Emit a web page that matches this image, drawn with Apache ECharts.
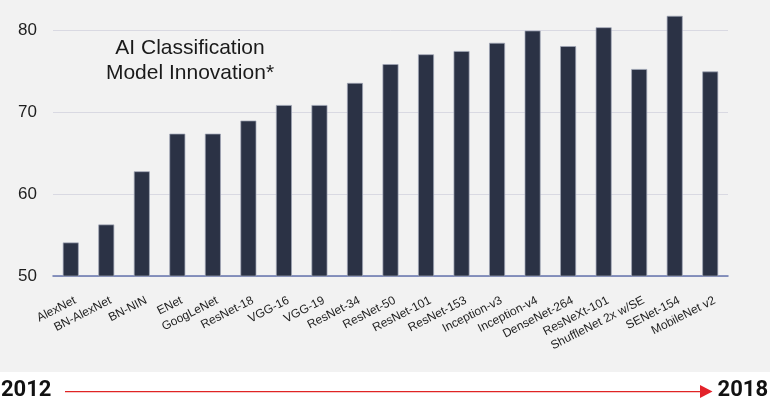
<!DOCTYPE html>
<html>
<head>
<meta charset="utf-8">
<script src="https://cdn.jsdelivr.net/npm/echarts@6/dist/echarts.min.js"></script>
<style>
  html, body { margin: 0; padding: 0; background: #fff; }
  #chart { width: 770px; height: 399px; background: linear-gradient(#f2f2f2 0, #f2f2f2 372px, #fff 372px); }
</style>
</head>
<body>
<div id="chart"></div>
<script>
// model names, left to right (2012 -> 2018)
var models = ['AlexNet', 'BN-AlexNet', 'BN-NIN', 'ENet', 'GoogLeNet', 'ResNet-18', 'VGG-16', 'VGG-19',
  'ResNet-34', 'ResNet-50', 'ResNet-101', 'ResNet-153', 'Inception-v3', 'Inception-v4', 'DenseNet-264',
  'ResNeXt-101', 'ShuffleNet 2x w/SE', 'SENet-154', 'MobileNet v2'];
// top-1 accuracy (%)
var accuracy = [54.1, 56.3, 62.8, 67.4, 67.4, 69.0, 70.9, 70.9, 73.6, 75.9, 77.1, 77.5, 78.5, 80.0, 78.1,
  80.4, 75.3, 81.8, 75.0];
var yTicks = [50, 60, 70, 80];
var years = ['2012', '2018'];

var chart = echarts.init(document.getElementById('chart'));

var option = {
  backgroundColor: 'transparent',
  animation: false,
  grid: { left: 53, right: 42, top: 6, bottom: 123 },
  xAxis: {
    type: 'category',
    data: models,
    axisLine: { lineStyle: { color: '#6574ad', width: 1.5 } },
    axisTick: { show: false },
    axisLabel: {
      rotate: 27,
      interval: 0,
      margin: 26,
      padding: [0, -5, 0, 0],
      color: '#1e1e1e',
      fontSize: 12,
      fontFamily: 'Liberation Sans, Arial, sans-serif'
    }
  },
  yAxis: {
    type: 'value',
    min: yTicks[0],
    max: 83,
    interval: 10,
    axisLine: { show: false },
    axisTick: { show: false },
    axisLabel: {
      margin: 16,
      showMaxLabel: false,
      color: '#1e1e1e',
      fontSize: 17,
      fontFamily: 'Liberation Sans, Arial, sans-serif'
    },
    splitLine: { showMaxLine: false, lineStyle: { color: '#d9d9e2', width: 1 } }
  },
  series: [{
    type: 'bar',
    data: accuracy,
    barWidth: 16,
    itemStyle: {
      color: '#2b3245',
      borderColor: 'rgba(160,166,182,0.9)',
      borderWidth: 0.8
    }
  }],
  graphic: [
    {
      type: 'text',
      x: 190, y: 36,
      style: {
        text: 'AI Classification\nModel Innovation*',
        align: 'center',
        fill: '#1a1a1a',
        font: '21px "Liberation Sans", Arial, sans-serif',
        lineHeight: 25
      }
    },
    {
      type: 'text',
      left: 1, top: 379,
      style: { text: years[0], fill: '#111', font: 'bold 22px Roboto, sans-serif' }
    },
    {
      type: 'text',
      right: 2, top: 379,
      style: { text: years[1], fill: '#111', font: 'bold 22px Roboto, sans-serif' }
    },
    {
      type: 'rect',
      shape: { x: 65, y: 391, width: 637, height: 1.2 },
      style: { fill: '#e02424' }
    },
    {
      type: 'polygon',
      shape: { points: [[700, 385], [712.5, 391.5], [700, 398]] },
      style: { fill: '#e3222a' }
    }
  ]
};

chart.setOption(option);
</script>
</body>
</html>
